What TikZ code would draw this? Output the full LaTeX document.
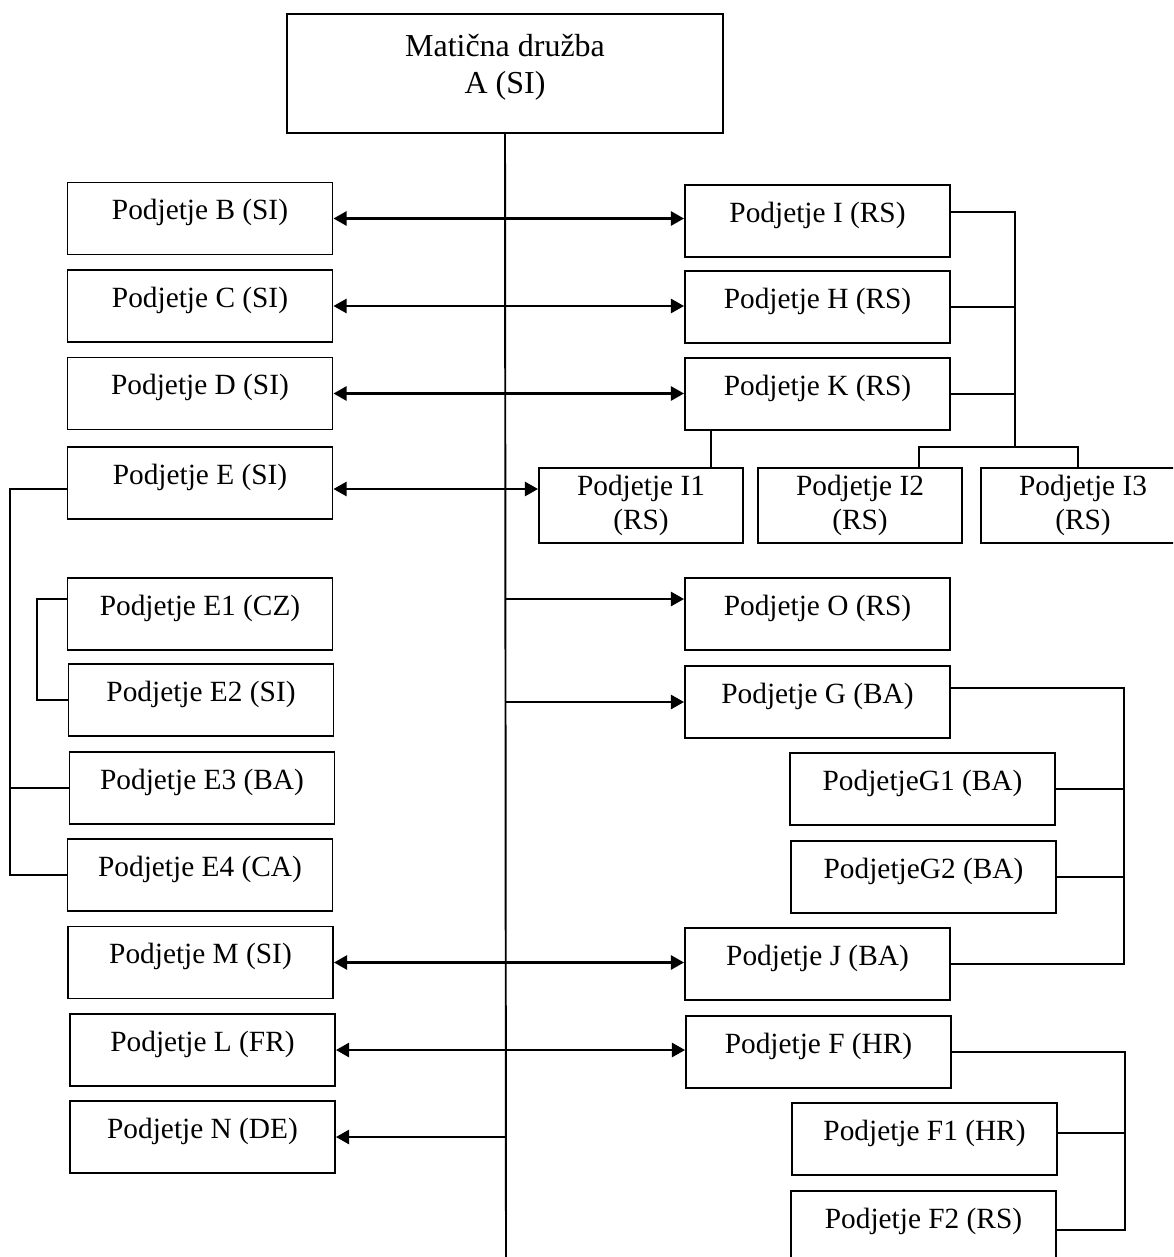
\documentclass[tikz,border=0pt]{standalone}
\usepackage{fontspec}
\setmainfont{Liberation Serif}
\usetikzlibrary{arrows.meta}

\begin{document}
\begin{tikzpicture}[
  x=0.02cm, y=-0.02cm,
  box/.style={draw, line width=1.1pt, minimum width=5.3cm, minimum height=1.44cm, inner sep=0pt,
    text height=0.7em, text depth=0.55em, font=\fontsize{16.7}{19}\selectfont},
  subbox/.style={draw, line width=1.1pt, minimum width=4.08cm, minimum height=1.5cm, inner sep=0pt,
    align=center, font=\fontsize{16.7}{19}\selectfont},
  link/.style={line width=1.1pt},
  arr/.style={-{Triangle[length=7.5pt, width=8pt]}, line width=1.5pt},
  biarr/.style={{Triangle[length=7.5pt, width=8pt]}-{Triangle[length=7.5pt, width=8pt]}, line width=1.5pt}
]
  \useasboundingbox (0,0) rectangle (1173,1257);
  \clip (0,0) rectangle (1173,1257);

  % parent
  \node[draw, line width=1.1pt, minimum width=8.72cm, minimum height=2.38cm, align=center,
    font=\fontsize{18.2}{21}\selectfont] (a) at (505,73.5) {Matična družba\\A (SI)\rule[-11pt]{0pt}{0pt}};

  % left column
  \node[box] (b) at (200,218.5) {Podjetje B (SI)};
  \node[box] (c) at (200,306) {Podjetje C (SI)};
  \node[box] (d) at (200,393.5) {Podjetje D (SI)};
  \node[box] (e) at (200,483) {Podjetje E (SI)};
  \node[box] (e1) at (200,614) {Podjetje E1 (CZ)};
  \node[box] (e2) at (201,700) {Podjetje E2 (SI)};
  \node[box] (e3) at (202,788) {Podjetje E3 (BA)};
  \node[box] (e4) at (200,875) {Podjetje E4 (CA)};
  \node[box] (m) at (200.5,962.5) {Podjetje M (SI)};
  \node[box] (l) at (202.5,1050) {Podjetje L (FR)};
  \node[box] (n) at (202.5,1137) {Podjetje N (DE)};

  % right column
  \node[box] (i) at (817.5,221) {Podjetje I (RS)};
  \node[box] (h) at (817.5,307) {Podjetje H (RS)};
  \node[box] (k) at (817.5,394) {Podjetje K (RS)};
  \node[subbox] (i1) at (641,505.5) {Podjetje I1\\(RS)};
  \node[subbox] (i2) at (860,505.5) {Podjetje I2\\(RS)};
  \node[subbox] (i3) at (1083,505.5) {Podjetje I3\\(RS)};
  \node[box] (o) at (817.5,614) {Podjetje O (RS)};
  \node[box] (g) at (817.5,702) {Podjetje G (BA)};
  \node[box] (g1) at (922.5,789) {PodjetjeG1 (BA)};
  \node[box] (g2) at (923.5,877) {PodjetjeG2 (BA)};
  \node[box] (j) at (817.5,964) {Podjetje J (BA)};
  \node[box] (f) at (818.5,1052) {Podjetje F (HR)};
  \node[box] (f1) at (924.5,1139) {Podjetje F1 (HR)};
  \node[box] (f2) at (923.5,1227) {Podjetje F2 (RS)};

  % trunk
  \coordinate (tend) at (506,1257);
  \draw[link] (a.south) -- (tend);

  % arrows across the trunk
  \draw[biarr] (b.east) -- (b.east -| i.west);
  \draw[biarr] (c.east) -- (c.east -| h.west);
  \draw[biarr] (d.east) -- (d.east -| k.west);
  \coordinate (ein) at ([yshift=-.12cm]e.east);
  \draw[biarr] (ein) -- (ein -| i1.west);
  \coordinate (oin) at ([yshift=.3cm]o.west);
  \draw[arr] (a.south |- oin) -- (oin);
  \draw[arr] (a.south |- g.west) -- (g.west);
  \draw[biarr] (m.east) -- (m.east -| j.west);
  \draw[biarr] (l.east) -- (l.east -| f.west);
  \draw[arr] (a.south |- n.east) -- (n.east);

  % group I / H / K
  \coordinate (ibar) at (1015,447);
  \draw[link] ([yshift=.18cm]i.east) -| (ibar);
  \draw[link] (h.east) -- (h.east -| ibar);
  \draw[link] (k.east) -- (k.east -| ibar);
  \draw[link] ([xshift=1.18cm]i2.north) |- (ibar) -| ([xshift=-.1cm]i3.north);
  \draw[link] ([xshift=1.4cm]i1.north) -- ([xshift=1.4cm]i1.north |- k.south);

  % group E
  \coordinate (ebar) at (10,875);
  \draw[link] ([yshift=-.12cm]e.west) -| (ebar) -- (e4.west);
  \draw[link] (e3.west) -- (e3.west -| ebar);
  \coordinate (ebar2) at (37,700);
  \draw[link] ([yshift=.3cm]e1.west) -| (ebar2) -- (e2.west);

  % group G
  \coordinate (gbar) at (1124,964);
  \draw[link] ([yshift=.28cm]g.east) -| (gbar) -- (j.east);
  \draw[link] (g1.east) -- (g1.east -| gbar);
  \draw[link] (g2.east) -- (g2.east -| gbar);

  % group F
  \coordinate (fbar) at (1125,1230);
  \draw[link] (f.east) -| (fbar) -- (fbar -| f2.east);
  \draw[link] ([yshift=.12cm]f1.east) -- ([yshift=.12cm]f1.east -| fbar);
\end{tikzpicture}
\end{document}
